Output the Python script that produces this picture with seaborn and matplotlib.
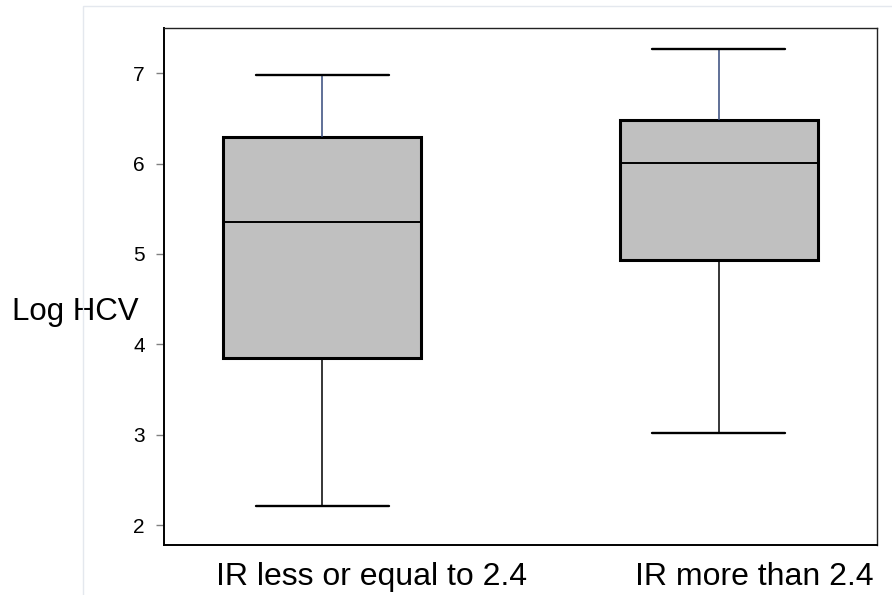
import numpy as np
import pandas as pd
import matplotlib
matplotlib.use("Agg")
import matplotlib.pyplot as plt
import matplotlib.transforms as mtransforms
from matplotlib.patches import Rectangle
import seaborn as sns

groups = ["IR less or equal to 2.4", "IR more than 2.4"]
# five-number summaries per group: min, Q1, median, Q3, max
low_ir = [2.21, 3.85, 5.35, 6.29, 6.98]
high_ir = [3.02, 4.93, 6.01, 6.48, 7.27]
y_ticks = [2, 3, 4, 5, 6, 7]

df = pd.DataFrame({
    "group": [groups[0]] * len(low_ir) + [groups[1]] * len(high_ir),
    "log_hcv": low_ir + high_ir,
})

sns.set_theme(style="white")
plt.rcParams["font.family"] = ["Liberation Sans", "DejaVu Sans"]

fig = plt.figure(figsize=(8.92, 5.95), dpi=100)
ax = fig.add_axes([164 / 892, 50 / 595, 713 / 892, 517 / 595])

sns.boxplot(
    data=df, x="group", y="log_hcv", order=groups, whis=(0, 100),
    width=0.5, color="#c0c0c0", saturation=1, linecolor="black",
    boxprops=dict(linewidth=2.2, edgecolor="black", facecolor="#c0c0c0"),
    medianprops=dict(linewidth=1.4, color="black"),
    whiskerprops=dict(linewidth=1.1, color="black"),
    capprops=dict(linewidth=1.7, color="black"),
    capwidths=0.336, ax=ax,
)

# upper whiskers are drawn in a dark slate blue
tops = {max(low_ir), max(high_ir)}
for line in ax.lines:
    x, y = line.get_data()
    if len(x) == 2 and x[0] == x[1] and max(y) in tops:
        line.set_color("#34497a")

ax.set_xlim(-0.40, 1.40)
ax.set_ylim(1.78, 7.50)
ax.set_yticks(y_ticks)
ax.set_yticklabels([str(t) for t in y_ticks])
ax.set_xlabel("")
ax.set_ylabel("Log HCV", rotation=0, fontsize=22.5, color="black",
              ha="left", va="baseline")
ax.yaxis.set_label_coords(-0.2132, 0.435)

ax.tick_params(axis="y", length=5.8, width=1, color="#808080",
               pad=8, labelsize=15, labelcolor="black", left=True)
ax.tick_params(axis="x", length=0, pad=12, labelsize=23, labelcolor="black")

offsets = [0.49, 0.36]
for lab, dx in zip(ax.get_xticklabels(), offsets):
    lab.set_transform(lab.get_transform() +
                      mtransforms.ScaledTranslation(dx, 0, fig.dpi_scale_trans))

for side in ["left", "bottom"]:
    ax.spines[side].set_linewidth(1.4)
    ax.spines[side].set_color("black")
for side in ["top", "right"]:
    ax.spines[side].set_linewidth(1.0)
    ax.spines[side].set_color("#222222")

# faint outer frame
fig.add_artist(Rectangle((83 / 892, -0.1), 1.0, 1 - 6 / 595 + 0.1,
                         transform=fig.transFigure, fill=False,
                         edgecolor="#e4e8ee", linewidth=1.0))

fig.savefig("out.png", dpi=100)
